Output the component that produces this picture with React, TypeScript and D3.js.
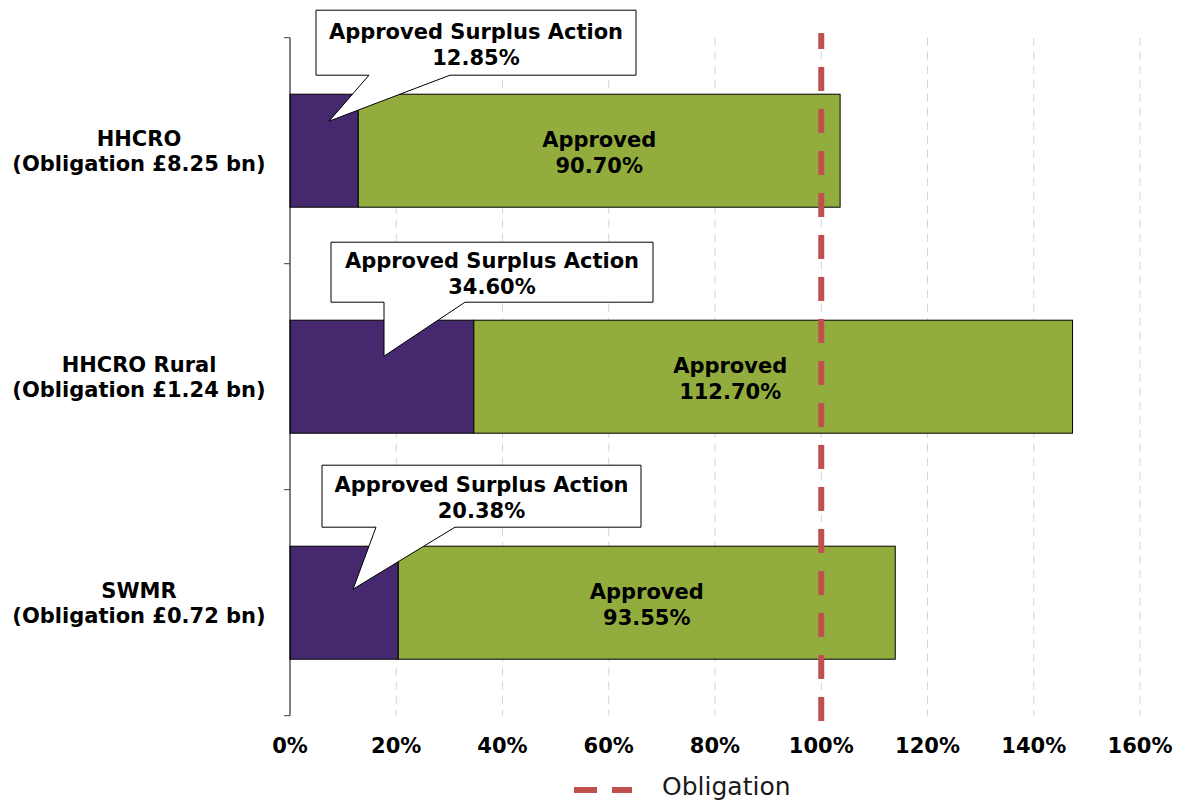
import * as d3 from "d3";

// categories and values
const categories = ["HHCRO", "HHCRO Rural", "SWMR"];
const obligations = ["£8.25 bn", "£1.24 bn", "£0.72 bn"];
const surplusAction = [12.85, 34.6, 20.38];
const approved = [90.7, 112.7, 93.55];
const xTicks = [0, 20, 40, 60, 80, 100, 120, 140, 160];
const obligationLevel = 100;

// callout placement, relative to x(0) and the bar top
const calloutLayout = [
  { box: 26, top: -84, w: 320, h: 65, b1: 53, b2: 134, tipX: 39, tipY: 27 },
  { box: 41, top: -78, w: 322, h: 60, b1: 53, b2: 134, tipX: 94, tipY: 36 },
  { box: 32, top: -81, w: 319, h: 62, b1: 54, b2: 133, tipX: 63, tipY: 43 },
];
// the rural label is nudged left, clear of the obligation line
const labelShift = [0, -43, 0];

const W = 1178;
const H = 802;
const FONT = "'DejaVu Sans', Verdana, sans-serif";
const PURPLE = "#46286F";
const GREEN = "#92AD3E";
const RED = "#C0504D";

export default function App() {
  const x = d3.scaleLinear().domain([0, 160]).range([290, 1140]);
  const y = d3
    .scaleBand<string>()
    .domain(categories)
    .range([37.7, 715.7])
    .paddingInner(0.5)
    .paddingOuter(0.25);

  const step = y.step();
  const top = 37.7;
  const bottom = 715.7;
  const bounds = d3.range(categories.length + 1).map((i) => top + i * step);

  return (
    <svg
      width={W}
      height={H}
      style={{ position: "absolute", left: 0, top: 0, background: "#fff" }}
      fontFamily={FONT}
    >
      {/* gridlines */}
      {xTicks
        .filter((t) => t > 0)
        .map((t) => (
          <line
            key={"g" + t}
            x1={x(t)}
            x2={x(t)}
            y1={top}
            y2={bottom}
            stroke="#d4d4d4"
            strokeWidth={1}
            strokeDasharray="8,6"
          />
        ))}

      {/* bars */}
      {categories.map((c, i) => {
        const y0 = y(c) ?? 0;
        const bw = y.bandwidth();
        const total = surplusAction[i] + approved[i];
        const lx = (x(surplusAction[i]) + x(total)) / 2 + labelShift[i];
        return (
          <g key={c}>
            <rect
              x={x(0)}
              y={y0}
              width={x(surplusAction[i]) - x(0)}
              height={bw}
              fill={PURPLE}
              stroke="#000"
              strokeWidth={1}
            />
            <rect
              x={x(surplusAction[i])}
              y={y0}
              width={x(total) - x(surplusAction[i])}
              height={bw}
              fill={GREEN}
              stroke="#000"
              strokeWidth={1}
            />
            <text textAnchor="middle" fontWeight="bold" fontSize={21} fill="#000">
              <tspan x={lx} y={y0 + bw / 2 - 4}>
                Approved
              </tspan>
              <tspan x={lx} y={y0 + bw / 2 + 22}>
                {approved[i].toFixed(2)}%
              </tspan>
            </text>
          </g>
        );
      })}

      {/* obligation line */}
      <line
        x1={x(obligationLevel)}
        x2={x(obligationLevel)}
        y1={33}
        y2={721}
        stroke={RED}
        strokeWidth={6}
        strokeDasharray="24,18"
        strokeDashoffset={8}
      />

      {/* callouts */}
      {categories.map((c, i) => {
        const L = calloutLayout[i];
        const x0 = x(0);
        const barTop = y(c) ?? 0;
        const bx = x0 + L.box;
        const by = barTop + L.top;
        const path = d3.path();
        path.moveTo(bx, by);
        path.lineTo(bx + L.w, by);
        path.lineTo(bx + L.w, by + L.h);
        path.lineTo(bx + L.b2, by + L.h);
        path.lineTo(x0 + L.tipX, barTop + L.tipY);
        path.lineTo(bx + L.b1, by + L.h);
        path.lineTo(bx, by + L.h);
        path.closePath();
        const cx = bx + L.w / 2;
        const cy = by + L.h / 2;
        return (
          <g key={"c" + c}>
            <path d={path.toString()} fill="#fff" stroke="#000" strokeWidth={1} />
            <text textAnchor="middle" fontWeight="bold" fontSize={21} fill="#000">
              <tspan x={cx} y={cy - 4}>
                Approved Surplus Action
              </tspan>
              <tspan x={cx} y={cy + 22}>
                {surplusAction[i].toFixed(2)}%
              </tspan>
            </text>
          </g>
        );
      })}

      {/* y axis */}
      <line x1={x(0)} x2={x(0)} y1={top} y2={bottom} stroke="#000" strokeWidth={1} />
      {bounds.map((b, i) => (
        <line key={"t" + i} x1={x(0) - 6} x2={x(0)} y1={b} y2={b} stroke="#404040" strokeWidth={1} />
      ))}
      {categories.map((c, i) => {
        const cy = (y(c) ?? 0) + y.bandwidth() / 2;
        return (
          <text key={"l" + c} textAnchor="middle" fontWeight="bold" fontSize={21} fill="#000">
            <tspan x={139} y={cy - 5}>
              {c}
            </tspan>
            <tspan x={139} y={cy + 20}>
              (Obligation {obligations[i]})
            </tspan>
          </text>
        );
      })}

      {/* x tick labels */}
      {xTicks.map((t) => (
        <text
          key={"x" + t}
          x={x(t)}
          y={753}
          textAnchor="middle"
          fontWeight="bold"
          fontSize={21}
          fill="#000"
        >
          {t}%
        </text>
      ))}

      {/* legend */}
      <line x1={574} x2={632} y1={790} y2={790} stroke={RED} strokeWidth={6} strokeDasharray="23,15" />
      <text x={662} y={795} fontSize={25} fill="#1a1a1a">
        Obligation
      </text>
    </svg>
  );
}
